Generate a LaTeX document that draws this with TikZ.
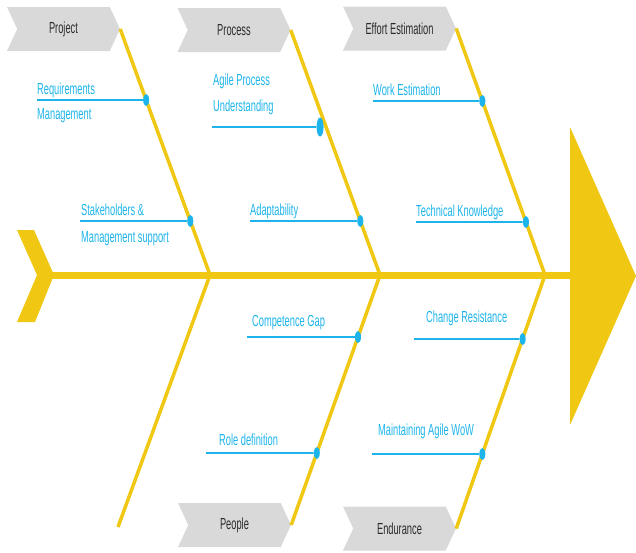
\documentclass[tikz,border=0pt]{standalone}
\usepackage{fontspec}
\newfontfamily\narrowsans{Liberation Sans}[FakeStretch=0.58]
\usetikzlibrary{shapes.geometric,shapes.symbols}
\definecolor{fishyellow}{HTML}{F0C814}
\definecolor{causecyan}{HTML}{1CB4EA}
\definecolor{boxgray}{HTML}{D9D9D9}
\definecolor{boxtext}{HTML}{2B2B2B}

\begin{document}
\begin{tikzpicture}[x=1pt, y=-1pt,
  spine/.style={line width=7pt, fishyellow},
  bone/.style={line width=3.5pt, fishyellow},
  category/.style={signal, signal to=east, signal from=west, signal pointer angle=130,
    fill=boxgray, minimum width=113pt, minimum height=44pt, inner sep=0pt,
    text=boxtext, font=\narrowsans\fontsize{16}{18}\selectfont},
  cause/.style={line width=1.6pt, causecyan},
  causedot/.style={ellipse, fill=causecyan, inner sep=0pt, minimum width=6pt, minimum height=12pt},
  causetext/.style={anchor=base west, inner sep=0pt, text=causecyan,
    font=\narrowsans\fontsize{16}{18}\selectfont}]

\useasboundingbox (0,0) rectangle (636,552);

\node[category] (proj) at (63.5,29) {Project};
\node[category] (proc) at (234,30) {Process};
\node[category] (effort) at (399.5,28.5) {Effort Estimation};
\node[category] (people) at (234.5,525) {People};
\node[category] (endur) at (399.5,528.5) {Endurance};

\coordinate (tail) at (38,275);
\coordinate (j1) at (210,275);
\coordinate (j2) at (380,275);
\coordinate (j3) at (545,275);
\coordinate (headbase) at (571,275);
\coordinate (b1end) at (118,527);

\fill[fishyellow] (17,230) -- (34,230) -- (54,275) -- (35,322) -- (17,322) -- (37,275) -- cycle;
\fill[fishyellow] (570,127) -- (636,276) -- (570,425) -- cycle;
\draw[spine] (tail) -- (headbase);

\draw[bone] (proj.east) -- (j1);
\draw[bone] (proc.east) -- (j2);
\draw[bone] (effort.east) -- (j3);
\draw[bone] (j1) -- (b1end);
\draw[bone] (j2) -- (people.east);
\draw[bone] (j3) -- (endur.east);

\node[causedot] (d1) at (intersection of proj.east--j1 and 0,100--10,100) {};
\node[causedot] (d2) at (intersection of proj.east--j1 and 0,221--10,221) {};
\node[causedot, minimum width=7pt, minimum height=19pt, xshift=-6pt] (d3) at (intersection of proc.east--j2 and 0,127--10,127) {};
\node[causedot] (d4) at (intersection of proc.east--j2 and 0,221--10,221) {};
\node[causedot] (d5) at (intersection of effort.east--j3 and 0,101--10,101) {};
\node[causedot] (d6) at (intersection of effort.east--j3 and 0,222--10,222) {};
\node[causedot] (d7) at (intersection of j2--people.east and 0,337--10,337) {};
\node[causedot] (d8) at (intersection of j2--people.east and 0,453--10,453) {};
\node[causedot] (d9) at (intersection of j3--endur.east and 0,339--10,339) {};
\node[causedot] (d10) at (intersection of j3--endur.east and 0,454--10,454) {};

\coordinate (c1) at (37,100);
\coordinate (c2) at (80,221);
\coordinate (c3) at (212,127);
\coordinate (c4) at (250,221);
\coordinate (c5) at (373,101);
\coordinate (c6) at (416,222);
\coordinate (c7) at (247,337);
\coordinate (c8) at (206,453);
\coordinate (c9) at (414,339);
\coordinate (c10) at (372,454);

\draw[cause] (c1) -- (d1);
\draw[cause] (c2) -- (d2);
\draw[cause] (c3) -- (d3);
\draw[cause] (c4) -- (d4);
\draw[cause] (c5) -- (d5);
\draw[cause] (c6) -- (d6);
\draw[cause] (c7) -- (d7);
\draw[cause] (c8) -- (d8);
\draw[cause] (c9) -- (d9);
\draw[cause] (c10) -- (d10);

\node[causetext] (t1a) at (37,94) {Requirements};
\node[causetext] (t1b) at (37,119) {Management};
\node[causetext] (t2a) at (81,215) {Stakeholders \&};
\node[causetext] (t2b) at (81,242) {Management support};
\node[causetext] (t3a) at (213,85) {Agile Process};
\node[causetext] (t3b) at (213,111) {Understanding};
\node[causetext] (t4) at (250,215) {Adaptability};
\node[causetext] (t5) at (373,95) {Work Estimation};
\node[causetext] (t6) at (416,216) {Technical Knowledge};
\node[causetext] (t7) at (252,326) {Competence Gap};
\node[causetext] (t8) at (219,445) {Role definition};
\node[causetext] (t9) at (426,322) {Change Resistance};
\node[causetext] (t10) at (378,435) {Maintaining Agile WoW};

\end{tikzpicture}
\end{document}
